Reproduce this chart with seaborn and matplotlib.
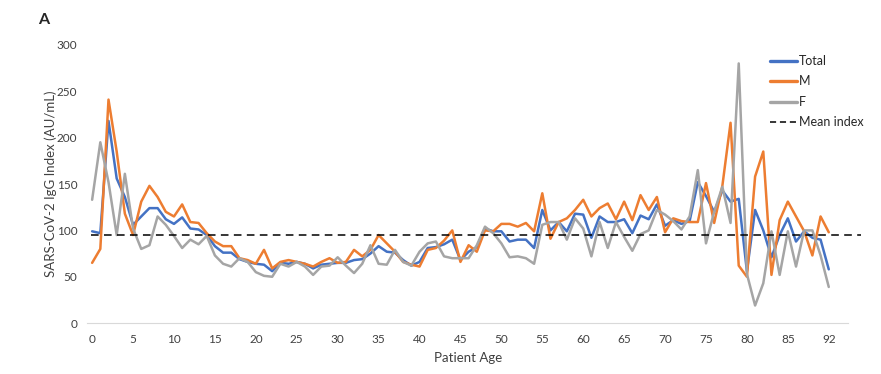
import pandas as pd
import matplotlib.pyplot as plt
import seaborn as sns

# ages on the category axis (two ages between 89 and 92 have no data)
ages = list(range(90)) + [92]

total = [99, 97, 218, 156, 136, 106, 115, 124, 124, 112,
         107, 114, 102, 101, 95, 83, 76, 76, 69, 66,
         64, 63, 56, 65, 64, 66, 64, 59, 63, 64,
         65, 65, 68, 69, 75, 83, 77, 76, 68, 62,
         66, 81, 82, 85, 90, 68, 77, 82, 102, 99,
         99, 88, 90, 90, 81, 122, 100, 109, 99, 118,
         117, 92, 115, 109, 109, 112, 97, 116, 112, 128,
         105, 111, 107, 110, 152, 137, 120, 143, 131, 134,
         56, 122, 100, 71, 95, 113, 88, 99, 92, 90, 58]
male = [65, 80, 241, 185, 118, 95, 131, 148, 136, 120,
        115, 128, 109, 108, 97, 88, 83, 83, 70, 68,
        64, 79, 59, 66, 68, 66, 64, 61, 66, 70,
        65, 66, 79, 72, 79, 95, 86, 77, 66, 63,
        61, 79, 81, 89, 100, 66, 84, 77, 100, 99,
        107, 107, 104, 108, 99, 140, 91, 109, 113, 122,
        133, 115, 124, 129, 112, 131, 111, 138, 122, 136,
        98, 113, 110, 109, 109, 151, 108, 148, 216, 62,
        50, 158, 185, 52, 111, 131, 115, 99, 73, 115, 98]
female = [133, 195, 152, 95, 161, 102, 80, 84, 115, 106,
          94, 81, 90, 85, 94, 73, 64, 61, 70, 66,
          55, 51, 50, 64, 61, 66, 61, 52, 61, 62,
          71, 62, 54, 64, 84, 64, 63, 79, 66, 62,
          77, 86, 88, 72, 70, 70, 70, 84, 104, 97,
          86, 71, 72, 70, 64, 106, 109, 109, 90, 113,
          102, 72, 109, 81, 109, 93, 78, 96, 100, 122,
          117, 110, 101, 115, 165, 86, 120, 147, 108, 280,
          53, 19, 43, 99, 52, 99, 61, 100, 100, 73, 39]
mean_index = 95

series_names = ["Total", "M", "F"]
colors = {"Total": "#4472C4", "M": "#ED7D31", "F": "#A5A5A5"}

rows = []
for name, vals in zip(series_names, [total, male, female]):
    for i, v in enumerate(vals):
        rows.append({"pos": i, "age": ages[i], "value": v, "series": name})
df = pd.DataFrame(rows)

sns.set_style("white")
plt.rcParams["font.family"] = ["Lato", "DejaVu Sans"]

fig = plt.figure(figsize=(8.81, 3.74), dpi=100)
ax = fig.add_axes([0.099, 0.136, 0.864, 0.744])

sns.lineplot(data=df, x="pos", y="value", hue="series", hue_order=series_names,
             palette=colors, linewidth=1.8, ax=ax, legend=False)
# mean index line runs a bit past the last category, as in the original
ax.axhline(mean_index, xmin=0.005, xmax=1.016, color="black",
           linestyle=(0, (5, 3.5)), linewidth=1.1, clip_on=False)

ax.set_ylim(0, 300)
ax.set_yticks(range(0, 301, 50))
ax.set_xlim(-0.6, 92.4)
major = list(range(0, 90, 5)) + [90]
ax.set_xticks(major)
ax.set_xticklabels([str(ages[p]) for p in major])
ax.set_xticks(range(len(ages)), minor=True)

for s in ["top", "right", "left"]:
    ax.spines[s].set_visible(False)
ax.spines["bottom"].set_color("#D9D9D9")
ax.tick_params(axis="x", which="both", length=4, color="#D9D9D9",
               labelsize=8.5, labelcolor="#404040", pad=4)
ax.tick_params(axis="y", length=0, labelsize=8.5, labelcolor="#404040", pad=7)

ax.set_xlabel("Patient Age", fontsize=9.5, color="#404040", labelpad=5)
ax.set_ylabel("SARS-CoV-2 IgG Index (AU/mL)", fontsize=9.5, color="#404040", labelpad=0)

handles = [plt.Line2D([], [], color=colors[n], linewidth=2.4) for n in series_names]
handles.append(plt.Line2D([], [], color="black", linestyle=(0, (4, 2.5)), linewidth=1.1))
fig.legend(handles, series_names + ["Mean index"], loc="upper left",
           bbox_to_anchor=(0.874, 0.853), frameon=False, fontsize=9,
           handlelength=2.2, handletextpad=0.1, labelspacing=0.68,
           borderpad=0, borderaxespad=0)

fig.text(0.043, 0.935, "A", fontsize=11.5, fontweight="bold")

fig.savefig("out.png", dpi=100)
